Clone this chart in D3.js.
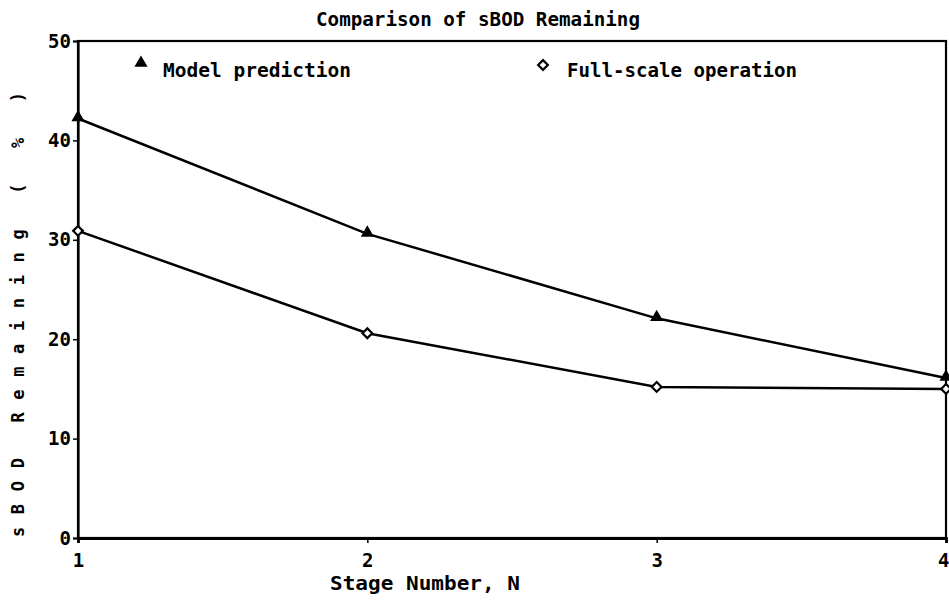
<!DOCTYPE html>
<html>
<head>
<meta charset="utf-8">
<script src="https://cdn.jsdelivr.net/npm/d3@7"></script>
<style>
  html, body { margin: 0; padding: 0; background: #fff; }
  svg { display: block; }
  text { font-family: "DejaVu Sans Mono", "Liberation Mono", monospace; font-weight: bold; fill: #000; }
</style>
</head>
<body>
<svg id="chart" width="949" height="603"></svg>
<script>
// ---- data ----
const stages = [1, 2, 3, 4];
const modelPrediction = [42.2, 30.6, 22.1, 16.1];
const fullScaleOperation = [30.9, 20.6, 15.2, 15.0];
const yTickValues = [0, 10, 20, 30, 40, 50];
const xTickValues = [1, 2, 3, 4];
const seriesNames = ["Model prediction", "Full-scale operation"];
const titleText = "Comparison of sBOD Remaining";
const xLabelText = "Stage Number, N";
const yLabelText = "sBOD Remaining ( % )";

// ---- layout ----
const svg = d3.select("#chart");
const mLeft = 78, mRight = 946, mTop = 41, mBottom = 538;

const x = d3.scaleLinear().domain([1, 4]).range([mLeft, mRight]);
const y = d3.scaleLinear().domain([0, 50]).range([mBottom, mTop]);

// frame
svg.append("rect")
  .attr("x", mLeft).attr("y", mTop)
  .attr("width", mRight - mLeft).attr("height", mBottom - mTop)
  .attr("fill", "none").attr("stroke", "#000").attr("stroke-width", 2.2);

// y axis
const yAxis = svg.append("g")
  .attr("transform", `translate(${mLeft},0)`)
  .call(d3.axisLeft(y).tickValues(yTickValues).tickSize(5).tickPadding(2).tickFormat(d3.format("d")));
yAxis.select(".domain").attr("stroke-width", 2.2);
yAxis.selectAll(".tick line").attr("stroke-width", 1.5);
yAxis.selectAll("text").style("font-size", "19px").attr("fill", "#000");

// x axis
const xAxis = svg.append("g")
  .attr("transform", `translate(0,${mBottom})`)
  .call(d3.axisBottom(x).tickValues(xTickValues).tickSize(5).tickPadding(11).tickFormat(d3.format("d")));
xAxis.select(".domain").attr("stroke-width", 2.8);
xAxis.selectAll(".tick line").attr("stroke-width", 1.5);
xAxis.selectAll("text").style("font-size", "19px").attr("fill", "#000");
xAxis.selectAll(".tick text").filter(d => d === 4).attr("text-anchor", "end").attr("x", 3);

// lines
const line = d3.line().x((d, i) => x(stages[i])).y(d => y(d));
svg.append("path").datum(modelPrediction)
  .attr("d", line).attr("fill", "none").attr("stroke", "#000").attr("stroke-width", 2.5);
svg.append("path").datum(fullScaleOperation)
  .attr("d", line).attr("fill", "none").attr("stroke", "#000").attr("stroke-width", 2.5);

// markers
const tri = d3.symbol().type(d3.symbolTriangle).size(75);
const dia = d3.symbol().type(d3.symbolDiamond2).size(60);
svg.selectAll(".m1").data(modelPrediction).enter().append("path")
  .attr("transform", (d, i) => `translate(${x(stages[i])},${y(d) - 1})`)
  .attr("d", tri).attr("fill", "#000");
svg.selectAll(".m2").data(fullScaleOperation).enter().append("path")
  .attr("transform", (d, i) => `translate(${x(stages[i])},${y(d)})`)
  .attr("d", dia).attr("fill", "#fff").attr("stroke", "#000").attr("stroke-width", 2.2);

// legend
svg.append("path").attr("transform", "translate(141,63)").attr("d", tri).attr("fill", "#000");
svg.append("text").attr("x", 163).attr("y", 77).attr("textLength", 188)
  .attr("lengthAdjust", "spacingAndGlyphs").style("font-size", "20px").text(seriesNames[0]);
svg.append("path").attr("transform", "translate(543,65)").attr("d", dia)
  .attr("fill", "#fff").attr("stroke", "#000").attr("stroke-width", 2.2);
svg.append("text").attr("x", 567).attr("y", 77).attr("textLength", 230)
  .attr("lengthAdjust", "spacingAndGlyphs").style("font-size", "20px").text(seriesNames[1]);

// title
svg.append("text").attr("x", 316).attr("y", 26).attr("textLength", 324)
  .attr("lengthAdjust", "spacingAndGlyphs").style("font-size", "20px").text(titleText);

// x label
svg.append("text").attr("x", 330).attr("y", 590).attr("textLength", 190)
  .attr("lengthAdjust", "spacingAndGlyphs").style("font-size", "20px").text(xLabelText);

// y label
svg.append("text")
  .attr("transform", "translate(24,537) rotate(-90)")
  .attr("x", 0).attr("y", 0)
  .attr("textLength", 445).attr("lengthAdjust", "spacing")
  .style("font-size", "17px").text(yLabelText);
</script>
</body>
</html>
